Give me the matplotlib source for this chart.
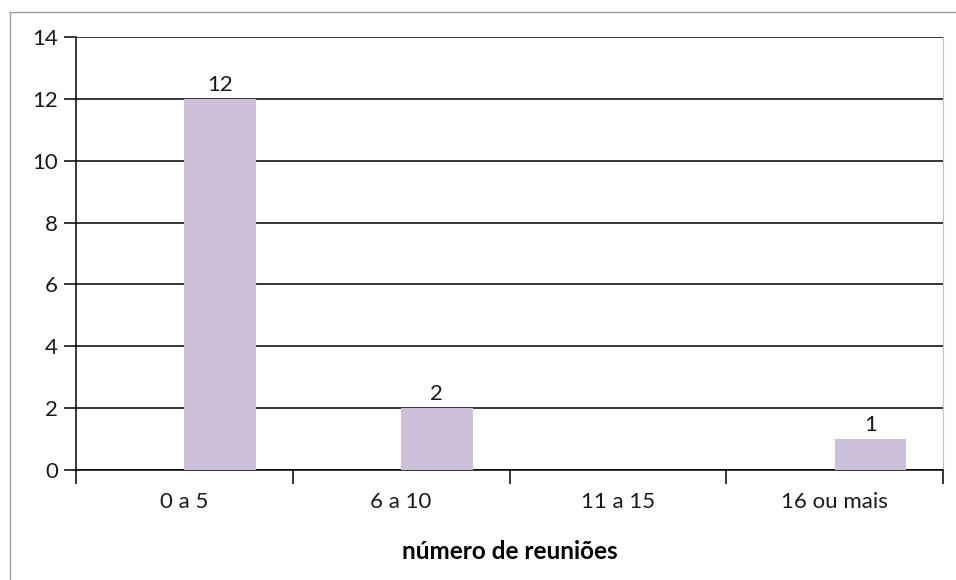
import matplotlib.pyplot as plt
from matplotlib.lines import Line2D
import numpy as np

categorias = ['0 a 5', '6 a 10', '11 a 15', '16 ou mais']
valores = [12, 2, 0, 1]
yticks = [0, 2, 4, 6, 8, 10, 12, 14]

plt.rcParams['font.family'] = ['Lato', 'DejaVu Sans']

W, H = 956, 580
fig = plt.figure(figsize=(W / 100, H / 100), dpi=100)
ax = fig.add_axes([76 / W, (H - 470) / H, (943 - 76) / W, (470 - 37) / H])

x = np.arange(len(categorias))
largura = 0.33
barras = ax.bar(x, valores, width=largura, align='edge', color='#CCC0DA', zorder=3)
for b, v in zip(barras, valores):
    if v > 0:
        ax.text(b.get_x() + b.get_width() / 2, v + 0.12, str(v), ha='center', va='bottom',
                fontsize=16, color='#1a1a1a')

ax.set_xlim(-0.5, len(categorias) - 0.5)
ax.set_ylim(0, 14)
ax.set_yticks(yticks)
ax.yaxis.grid(True, color='black', linewidth=1.1, zorder=1)
ax.set_axisbelow(True)

ax.set_xticks(x)
ax.set_xticklabels(categorias, fontsize=16, color='#1a1a1a')
ax.set_xticks(np.arange(len(categorias) + 1) - 0.5, minor=True)
ax.tick_params(axis='x', which='major', length=0, pad=16)
ax.tick_params(axis='x', which='minor', length=10, width=1.1, color='black')
ax.tick_params(axis='y', length=9, width=1.1, labelsize=16, labelcolor='#1a1a1a', pad=4)

for s in ['left', 'bottom']:
    ax.spines[s].set_color('black')
    ax.spines[s].set_linewidth(1.1)
ax.spines['right'].set_color('#c0c0c0')
ax.spines['top'].set_visible(False)

ax.set_xlabel('número de reuniões', fontsize=17.5, fontweight='bold', labelpad=20)

fig.add_artist(Line2D([10 / W, 1], [1 - 12 / H, 1 - 12 / H], color='#a0a0a0', linewidth=1))
fig.add_artist(Line2D([10 / W, 10 / W], [0, 1 - 12 / H], color='#a0a0a0', linewidth=1))

fig.savefig('out.png', dpi=100)
